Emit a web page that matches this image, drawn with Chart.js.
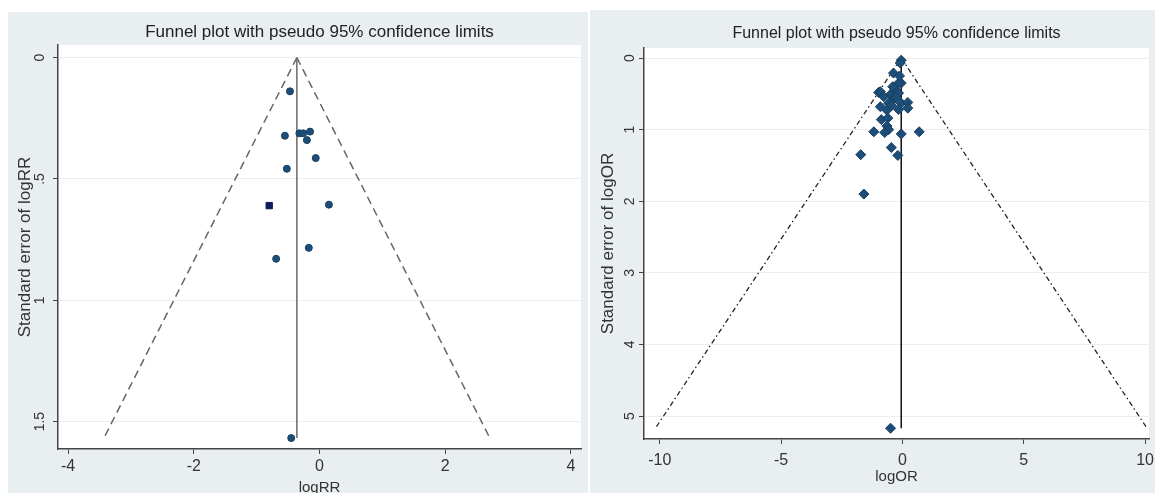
<!DOCTYPE html>
<html>
<head>
<meta charset="utf-8">
<script src="https://cdn.jsdelivr.net/npm/chart.js@4.4.1/dist/chart.umd.min.js"></script>
<style>
  html, body { margin: 0; padding: 0; background: #fff; overflow: hidden; }
  body { width: 1155px; height: 493px; position: relative; }
  .panel { position: absolute; background: #e9eef1; overflow: hidden; }
  #p1 { left: 8px; top: 12px; width: 580px; height: 490px; }
  #p2 { left: 590px; top: 10px; width: 565px; height: 490px; }
  canvas { display: block; }
</style>
</head>
<body>
<div class="panel" id="p1"><canvas id="rrChart" width="580" height="490"></canvas></div>
<div class="panel" id="p2"><canvas id="orChart" width="565" height="490"></canvas></div>
<script>
const TITLE = 'Funnel plot with pseudo 95% confidence limits';

// left panel: studies on logRR
const rrX  = [-0.47, -0.55, -0.32, -0.26, -0.15, -0.20, -0.06, -0.52, 0.15, -0.17, -0.69, -0.45];
const rrSE = [0.139, 0.322, 0.312, 0.312, 0.305, 0.340, 0.414, 0.458, 0.606, 0.784, 0.829, 1.568];
const rrDarkX  = [-0.80];
const rrDarkSE = [0.610];
const rrCenterX  = [-0.36, -0.36];
const rrCenterSE = [0, 1.568];
const rrLowerX  = [-0.36, -3.43];
const rrUpperX  = [-0.36, 2.71];
const rrLimitSE = [0, 1.568];
const rrXTicks = [-4, -2, 0, 2, 4];
const rrYTicks = [0, 0.5, 1, 1.5];
const rrYTickLabels = ['0', '.5', '1', '1.5'];

// right panel: studies on logOR
const orX  = [-0.05, -0.09, -0.37, -0.05, -0.16, -0.98, -0.91, -0.50, -0.30, -0.16, -0.77, -0.37, -0.57,
              -0.05, 0.22, 0.22, -0.16, -0.91, -0.64, -0.87, -0.60, -0.64, -0.57, -1.18, -0.73, -0.05,
              0.69, -0.46, -1.72, -0.19, -1.59, -0.49, -0.40, -0.25, -0.45, -0.12];
const orSE = [0.03, 0.07, 0.21, 0.35, 0.35, 0.48, 0.47, 0.51, 0.44, 0.49, 0.54, 0.58, 0.63,
              0.63, 0.62, 0.70, 0.72, 0.68, 0.73, 0.86, 0.84, 0.95, 1.00, 1.03, 1.04, 1.06,
              1.03, 1.25, 1.35, 1.36, 1.90, 5.17, 0.40, 0.55, 0.66, 0.25];
const orCenterX  = [-0.05, -0.05];
const orCenterSE = [0, 5.17];
const orLowerX  = [-0.05, -10.18];
const orUpperX  = [-0.05, 10.08];
const orLimitSE = [0, 5.17];
const orXTicks = [-10, -5, 0, 5, 10];
const orYTicks = [0, 1, 2, 3, 4, 5];
const orYTickLabels = ['0', '1', '2', '3', '4', '5'];

Chart.defaults.font.family = '"Liberation Sans", Arial, sans-serif';

const pts = (xs, ys) => xs.map((x, i) => ({ x: x, y: ys[i] }));

const plotBg = {
  id: 'plotBg',
  beforeDraw(chart) {
    const { ctx, chartArea: a } = chart;
    ctx.save();
    ctx.fillStyle = '#ffffff';
    ctx.fillRect(a.left, a.top, a.right - a.left, a.bottom - a.top);
    ctx.restore();
  }
};

// Stata style: y labels turned to read bottom to top
const rotatedYLabels = {
  id: 'rotatedYLabels',
  afterDraw(chart, args, opts) {
    const y = chart.scales.y;
    const ctx = chart.ctx;
    ctx.save();
    ctx.fillStyle = '#333';
    ctx.font = opts.font;
    ctx.textAlign = 'center';
    ctx.textBaseline = 'middle';
    y.ticks.forEach((t, i) => {
      ctx.save();
      ctx.translate(opts.x, y.getPixelForValue(t.value));
      ctx.rotate(-Math.PI / 2);
      ctx.fillText(opts.labels[i], 0, 0);
      ctx.restore();
    });
    ctx.restore();
  }
};

function funnelChart(id, c) {
  const lineSet = (data, color, dash, width) => ({
    data: data, showLine: true, pointRadius: 0, borderColor: color,
    borderWidth: width, borderDash: dash, fill: false, tension: 0
  });
  const datasets = [{
    data: c.points, pointStyle: c.pointStyle, pointRadius: c.pointRadius,
    backgroundColor: '#1d4e78', borderColor: '#173f63', borderWidth: 1
  }];
  if (c.extra) datasets.push(c.extra);
  datasets.push(lineSet(c.center, c.centerColor, [], 1.5));
  datasets.push(lineSet(c.lower, c.dashColor, c.dash, c.dashWidth));
  datasets.push(lineSet(c.upper, c.dashColor, c.dash, c.dashWidth));

  return new Chart(document.getElementById(id), {
    type: 'scatter',
    data: { datasets: datasets },
    options: {
      responsive: false,
      animation: false,
      layout: { padding: { left: 0, top: 0, right: c.padRight, bottom: 0 } },
      plugins: {
        legend: { display: false },
        tooltip: { enabled: false },
        title: {
          display: true, text: TITLE, fullSize: false, color: '#222',
          font: { size: c.titleSize, weight: 'normal' },
          padding: { top: c.titleTop, bottom: c.titleBottom }
        },
        rotatedYLabels: { x: c.yLabelX, font: '14px "Liberation Sans", Arial, sans-serif', labels: c.yLabels }
      },
      scales: {
        x: {
          type: 'linear', min: c.xMin, max: c.xMax,
          afterBuildTicks: s => { s.ticks = c.xTicks.map(v => ({ value: v })); },
          afterFit: s => { s.height = c.xHeight; s.paddingLeft = 0; s.paddingRight = 0; },
          grid: { drawOnChartArea: false, drawTicks: true, tickLength: 5, tickColor: '#444' },
          border: { color: '#444', width: 1.5 },
          ticks: { color: '#333', font: { size: 16 }, padding: c.xTickPad, maxRotation: 0, autoSkip: false },
          title: { display: true, text: c.xTitle, color: '#333', font: { size: 15 }, padding: { top: 0, bottom: c.xTitleBottom } }
        },
        y: {
          type: 'linear', reverse: true, min: c.yMin, max: c.yMax,
          afterBuildTicks: s => { s.ticks = c.yTicks.map(v => ({ value: v })); },
          afterFit: s => { s.width = c.yWidth; s.paddingTop = 0; s.paddingBottom = 0; },
          grid: { color: '#eceff0', tickColor: '#444', tickLength: 5 },
          border: { color: '#444', width: 1.5 },
          ticks: { display: false },
          title: { display: true, text: c.yTitle, color: '#333', font: { size: 17 }, padding: { top: c.yTitleTop, bottom: 0 } }
        }
      }
    },
    plugins: [plotBg, rotatedYLabels]
  });
}

funnelChart('rrChart', {
  points: pts(rrX, rrSE), pointStyle: 'circle', pointRadius: 3.5,
  extra: { data: pts(rrDarkX, rrDarkSE), pointStyle: 'rect', pointRadius: 4.5, backgroundColor: '#0b1d5e', borderColor: '#0b1d5e' },
  center: pts(rrCenterX, rrCenterSE), centerColor: '#6a6a6a',
  lower: pts(rrLowerX, rrLimitSE), upper: pts(rrUpperX, rrLimitSE),
  dashColor: '#666', dash: [8, 5], dashWidth: 1.5,
  xMin: -4.16, xMax: 4.16, xTicks: rrXTicks,
  yMin: -0.052, yMax: 1.613, yTicks: rrYTicks, yLabels: rrYTickLabels,
  xTitle: 'logRR', yTitle: 'Standard error of logRR',
  padRight: 7, titleSize: 17, titleTop: 9.8, titleBottom: 2.8,
  xHeight: 53, xTickPad: 3, xTitleBottom: 5,
  yWidth: 50, yLabelX: 32, yTitleTop: 6.8
});

funnelChart('orChart', {
  points: pts(orX, orSE), pointStyle: 'rectRot', pointRadius: 5,
  center: pts(orCenterX, orCenterSE), centerColor: '#111',
  lower: pts(orLowerX, orLimitSE), upper: pts(orUpperX, orLimitSE),
  dashColor: '#222', dash: [5, 3, 1.5, 3], dashWidth: 1.3,
  xMin: -10.65, xMax: 10.16, xTicks: orXTicks,
  yMin: -0.14, yMax: 5.32, yTicks: orYTicks, yLabels: orYTickLabels,
  xTitle: 'logOR', yTitle: 'Standard error of logOR',
  padRight: 0, titleSize: 16, titleTop: 14.4, titleBottom: 4.4,
  xHeight: 61, xTickPad: 7, xTitleBottom: 14,
  yWidth: 54, yLabelX: 40, yTitleTop: 7.8
});
</script>
</body>
</html>
